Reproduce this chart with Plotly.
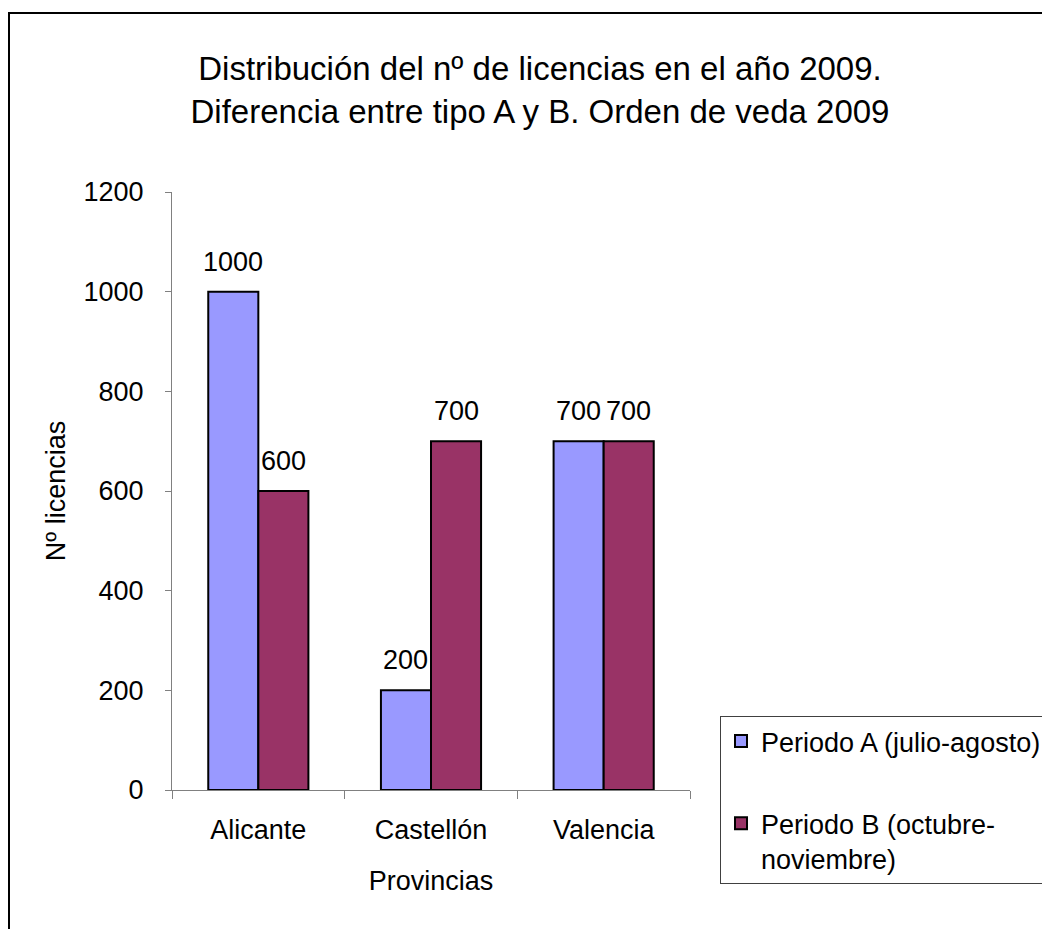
import plotly.graph_objects as go

# =====================================================
# DATA
# =====================================================

provincias = ["Alicante", "Castellón", "Valencia"]

periodo_a = [1000, 200, 700]
periodo_b = [600, 700, 700]

serie_a = "Periodo A (julio-agosto)"
serie_b = "Periodo B (octubre-<br>noviembre)"

# =====================================================
# LAYOUT GEOMETRY (page has an 8px body margin)
# =====================================================

W, H = 1042, 921
ML, MR, MT, MB = 164, 360, 184, 139
PW = W - ML - MR
PH = H - MT - MB

BARGAP = 0.42
BAR_PX = PW / len(provincias) * (1 - BARGAP) / 2

font = "Liberation Sans, Arial, sans-serif"
FS = 27

fig = go.Figure()

fig.add_trace(
    go.Bar(
        x=provincias,
        y=periodo_a,
        name=serie_a,
        legendgroup="a",
        marker=dict(color="#9999FF", line=dict(color="black", width=2))
    )
)

fig.add_trace(
    go.Bar(
        x=provincias,
        y=periodo_b,
        name=serie_b,
        legendgroup="b",
        marker=dict(color="#993366", line=dict(color="black", width=2))
    )
)

# data labels above each bar
for vals, shift in [(periodo_a, -BAR_PX / 2), (periodo_b, BAR_PX / 2)]:
    for cat, v in zip(provincias, vals):
        fig.add_annotation(
            x=cat,
            y=v,
            text=str(v),
            showarrow=False,
            xshift=shift,
            yshift=30,
            yanchor="middle",
            font=dict(size=FS, color="black")
        )

fig.update_layout(
    width=W,
    height=H,
    margin=dict(l=ML, r=MR, t=MT, b=MB, autoexpand=False),
    paper_bgcolor="white",
    plot_bgcolor="white",
    font=dict(family=font, size=FS, color="black"),
    barmode="group",
    bargap=BARGAP,
    bargroupgap=0,
    title=dict(
        text="Distribución del nº de licencias en el año 2009.<br>Diferencia entre tipo A y B. Orden de veda 2009",
        x=(532 - ML) / PW,
        xref="paper",
        xanchor="center",
        y=1 - 72 / H,
        yanchor="middle",
        font=dict(size=33)
    ),
    legend=dict(
        x=(712 - ML) / PW,
        y=(782 - 708) / PH,
        xanchor="left",
        yanchor="top",
        bordercolor="#404040",
        borderwidth=1,
        bgcolor="white",
        font=dict(size=FS),
        tracegroupgap=44,
        traceorder="grouped",
        valign="top",
        itemsizing="constant"
    ),
    showlegend=True
)

fig.update_xaxes(
    showline=True,
    linecolor="#808080",
    linewidth=1,
    ticks="outside",
    tickson="boundaries",
    ticklen=8,
    tickcolor="#808080",
    ticklabelstandoff=16,
    showgrid=False,
    title=dict(text="Provincias", standoff=26, font=dict(size=FS)),
    tickfont=dict(size=FS)
)

fig.update_yaxes(
    range=[0, 1200],
    dtick=200,
    showline=True,
    linecolor="#808080",
    linewidth=1,
    ticks="outside",
    ticklen=6,
    tickcolor="#808080",
    ticklabelstandoff=16,
    showgrid=False,
    zeroline=False,
    title=dict(text="Nº licencias", standoff=10, font=dict(size=FS)),
    tickfont=dict(size=FS)
)

# outer chart border (runs off the right and bottom edges)
fig.add_shape(
    type="rect",
    xref="paper",
    yref="paper",
    x0=(1 - ML) / PW,
    x1=(1070 - ML) / PW,
    y0=(782 - 950) / PH,
    y1=(782 - 5) / PH,
    line=dict(color="black", width=2),
    fillcolor="rgba(0,0,0,0)",
    layer="below"
)

fig.write_html("out.html")
